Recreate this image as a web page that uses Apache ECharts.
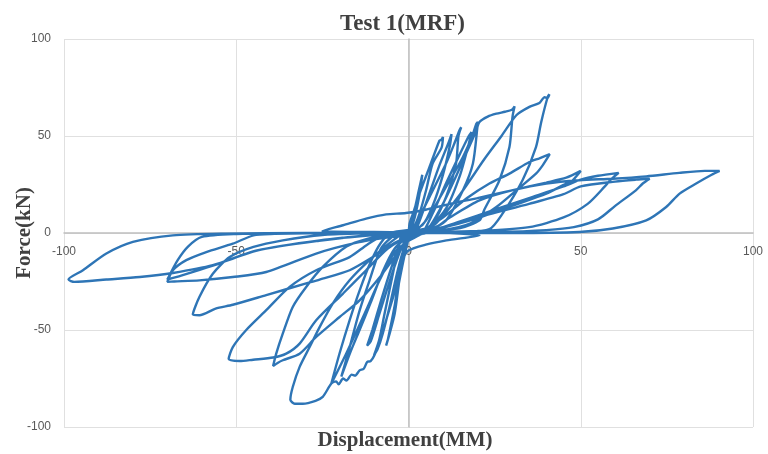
<!DOCTYPE html>
<html>
<head>
<meta charset="utf-8">
<script src="https://cdn.jsdelivr.net/npm/echarts@6/dist/echarts.min.js"></script>
<style>html,body{margin:0;padding:0;background:#fff;}#c{width:768px;height:454px;}</style>
</head>
<body>
<div id="c"></div>
<script>
// Tick values
const xTicks = [-100, -50, 0, 50, 100];
const yTicks = [-100, -50, 0, 50, 100];

// Hysteresis cycles: [displacement (mm), force (kN)]
const cycle0 = [[0,0],[1.5,10],[3,22],[4,30],[3.2,20],[1.8,8],[0.5,1],[-1,-3],[-2,-15],[-3.5,-32],[-4.5,-45],[-3.8,-35],[-2.5,-20],[-1,-5],[0,0]];
const cycle1 = [[0.3,4.8],[1.3,10],[3.2,20.3],[6.1,34],[9,47.7],[9.5,48],[10,49.5],[9.6,44],[7,35.8],[5.1,22],[3.2,10],[1.5,3],[-0.5,0.5],[-1.5,-8],[-2.5,-22],[-4,-41.5],[-5.5,-52],[-6.5,-58],[-6,-55],[-4.5,-42],[-2.8,-26],[-1.2,-12],[0,-3],[1,0.5]];
const cycle2 = [[1.5,2],[2.7,6.5],[6.1,18.6],[10.9,35.8],[13.5,47],[14.8,53],[15.3,54.5],[14.5,50],[13.8,35.8],[10.9,18.6],[7,4.8],[4,1.5],[0,1],[-2,-1],[-3,-8],[-5,-25],[-7,-42],[-8.5,-55],[-10,-63],[-9,-60],[-7.5,-52],[-5.5,-38],[-3.5,-22],[-1.7,-10],[0,-2],[2,1]];
const cycle2b = [[2,1],[5,15],[9,35],[11.5,46],[12.5,51],[12,45],[10,30],[7,14],[4,4],[0,1],[-2,-3],[-5,-18],[-8,-35],[-10.5,-50],[-12,-58],[-11,-56],[-8.5,-42],[-5.5,-25],[-3,-12],[-1,-4],[1,0]];
const cycle3 = [[2,1],[5.1,6.5],[10.9,23.7],[15.8,39.2],[18.5,50],[19.7,56.4],[20.1,57.2],[20,54.6],[18.7,35.8],[15.8,22],[10.9,6.5],[6,2],[0,1.5],[-5,0],[-8,-5],[-11,-15],[-14.2,-29.7],[-17.1,-45],[-20,-62],[-22.4,-77.6],[-18.1,-62.2],[-12.3,-39.8],[-8.4,-24.4],[-4,-10],[0,-4],[4,0]];
const cycle3b = [[4,0],[7,10],[11,26],[15,41],[17.5,50],[18.3,52],[17.5,46],[15,30],[11,13],[6,3],[0,1],[-4,-1],[-8,-8],[-11.3,-24.4],[-14.2,-40],[-16.5,-55],[-18.5,-68],[-19.5,-74],[-17,-62],[-14.2,-50],[-11,-36],[-7.5,-20],[-4,-8],[0,-2],[3,0]];
const cycle4 = [[3,0],[6,3],[10,15],[14,30],[17,42],[19.5,52],[20.6,57.2],[23,60],[25.5,61.5],[28,62.5],[30,63.5],[30.8,65.3],[30.2,60],[29.3,44.3],[26.4,27.2],[22,12],[20.6,6.5],[15,2.5],[8,1.5],[0,1],[-4.5,-3.8],[-11.3,-14],[-17.1,-24.4],[-22,-36.4],[-25.8,-48.5],[-28.7,-58.8],[-31.6,-69],[-33.6,-79.4],[-34.3,-86],[-33,-88],[-30.7,-88],[-27,-86.5],[-24.9,-84.5],[-22.4,-77.6],[-21,-76.5],[-20.3,-78],[-19,-75],[-18,-76],[-16.5,-73],[-15.5,-73.5],[-14.2,-70.8],[-13,-70],[-12,-66.5],[-11,-66],[-9.9,-63],[-8,-54],[-6.5,-45],[-3.6,-27.8],[-1.7,-14],[0,-9],[5,-6],[11,-3.8],[20.6,-1.2],[12,0],[4,0.5]];
const cycle5 = [[4,0.5],[8,5],[15,20],[22,38],[27,50],[31.3,60.7],[35.1,65],[38,67],[39.5,70],[40.3,69.5],[40.9,71.5],[40.4,70.1],[38.5,57],[37,44.3],[33.1,27.2],[27.3,10],[23.5,2],[15,0.5],[5,0],[-5,-1],[-12,-3],[-18,-7],[-24.9,-17.5],[-29.7,-27.8],[-33.6,-38.1],[-36.5,-51.9],[-38.4,-62.2],[-39.3,-68.6],[-38,-67],[-36.5,-65.6],[-31.6,-62.2],[-26.8,-53.6],[-20,-43.3],[-14.2,-34.7],[-8,-22],[-3,-10],[0,-4],[3,0]];
const cycle6 = [[3,0],[10,8],[17,18],[23.5,25.5],[29.3,30.6],[35.1,36.6],[38,38.5],[41,40.6],[39,35],[37,30.6],[31.3,22],[25.5,13.4],[18,5],[10,1.5],[0,0.5],[-8,-2],[-12,-6],[-17.1,-12.4],[-26.8,-19.2],[-34.5,-27.8],[-41.3,-39.8],[-47.1,-50],[-51,-58.8],[-52.2,-65],[-49,-66],[-45.1,-65.3],[-39.3,-64.2],[-35.5,-62.2],[-31.6,-57],[-26.8,-45],[-19,-31.2],[-12.3,-19.2],[-6,-8],[0,-2],[5,0]];
const cycle7 = [[5,0],[-10,0.5],[-25,1],[-19,4],[-12.3,7.4],[-6.5,9.6],[-0.7,10.3],[5,12],[12,15],[20,18],[30,22],[40,26],[45.8,28.5],[50,32],[47,26],[45.8,25.5],[40,20.3],[30,14],[20.6,8],[10,3],[0,1],[-10,0],[-25,-1],[-36.5,-3.8],[-45,-7.2],[-51.9,-12.4],[-56.8,-21],[-60.7,-33],[-62.6,-42],[-60.7,-42.4],[-56,-39],[-51,-37],[-41.3,-32],[-29.7,-26],[-25.8,-24],[-17.1,-19.2],[-10,-12],[-4,-5],[0,-2],[5,0]];
const cycle8 = [[5,0],[15,6],[25,12],[35,18],[45,24],[50,27.5],[55,29.5],[61,31],[59,28],[57,24],[52,15],[45,8],[35,3],[20,1],[5,0.5],[-20,0],[-40,-0.5],[-45,-1.2],[-51,-5.5],[-58.7,-9.8],[-64.5,-14],[-68.4,-19.2],[-70,-25.2],[-68,-25],[-60.7,-24.4],[-51,-22.7],[-41.3,-20.1],[-26.8,-10.6],[-15,-5],[-5,-2],[0,-1],[5,0]];
const cycle9 = [[5,0],[20,8],[35,15],[45,20],[50,24],[60,26.5],[66,27.5],[70,28],[68,25.5],[66,22],[60,14],[55,7],[48,3],[40,1.5],[25,0.5],[0,0],[-30,0],[-50,-0.5],[-60,-2],[-64,-7],[-67,-14],[-70,-24],[-66,-22],[-57,-17],[-44,-9],[-26,-4],[-10,-1],[5,0]];
const cycle10 = [[5,0],[12,8],[20.6,16.8],[30,22],[40,25.5],[49.6,27.2],[59.3,28],[69,29.2],[78.6,31],[86,32],[90.3,32],[88,30],[83.5,25.5],[78.7,20.3],[74.8,13.4],[69,6.5],[59.3,2.3],[49.6,0.5],[30,0],[0,0],[-30,0],[-53,-0.3],[-68.4,-1.2],[-80,-4.6],[-87.7,-10.6],[-94.5,-19.2],[-98.7,-24],[-97,-25.2],[-87.7,-24],[-78,-22.7],[-68.4,-20.6],[-56.8,-16.6],[-44,-9],[-25.8,-3.8],[-10,-1],[0,0]];

const cycles = [cycle0, cycle1, cycle2, cycle2b, cycle3, cycle3b, cycle4, cycle5, cycle6, cycle7, cycle8, cycle9, cycle10];
const points = [].concat(...cycles);

const chart = echarts.init(document.getElementById('c'), null, {renderer: 'canvas'});
const gridColor = '#e0e0e0';
const zeroColor = '#bfbfbf';
const labelStyle = {color: '#595959', fontSize: 12, fontFamily: 'Liberation Sans'};
const gridTop = 39, gridBottom = 27, chartH = 454;
const plotH = chartH - gridTop - gridBottom;

chart.setOption({
  animation: false,
  backgroundColor: '#ffffff',
  title: {
    text: 'Test 1(MRF)',
    left: 335, top: 8,
    textStyle: {fontFamily: 'Liberation Serif', fontWeight: 'bold', fontSize: 23, color: '#404040'}
  },
  grid: {left: 64, right: 15, top: gridTop, bottom: gridBottom, containLabel: false},
  xAxis: {
    type: 'value', min: xTicks[0], max: xTicks[xTicks.length - 1], interval: 50,
    position: 'bottom',
    offset: -plotH / 2,
    axisLine: {show: true, onZero: false, lineStyle: {color: zeroColor, width: 1.5}},
    axisTick: {show: false},
    axisLabel: Object.assign({margin: 13}, labelStyle),
    splitLine: {show: true, lineStyle: {color: gridColor, width: 1}}
  },
  yAxis: [{
    type: 'value', min: yTicks[0], max: yTicks[yTicks.length - 1], interval: 50,
    axisLine: {show: false, onZero: false},
    axisTick: {show: false},
    axisLabel: Object.assign({margin: 13}, labelStyle),
    splitLine: {show: true, lineStyle: {color: gridColor, width: 1}}
  }, {
    type: 'value', min: yTicks[0], max: yTicks[yTicks.length - 1], interval: 50,
    position: 'left',
    axisLine: {show: true, onZero: true, lineStyle: {color: zeroColor, width: 1.5}},
    axisTick: {show: false},
    axisLabel: {show: false},
    splitLine: {show: false}
  }],
  graphic: [{
    type: 'text', x: 25, y: 233, rotation: Math.PI / 2,
    style: {text: 'Force(kN)', font: 'bold 21px "Liberation Serif"', fill: '#404040', align: 'center', verticalAlign: 'middle'}
  }, {
    type: 'text', x: 405, y: 441,
    style: {text: 'Displacement(MM)', font: 'bold 21px "Liberation Serif"', fill: '#404040', align: 'center', verticalAlign: 'middle'}
  }],
  series: [{
    type: 'line',
    xAxisIndex: 0, yAxisIndex: 0,
    data: points,
    showSymbol: false, symbol: 'none',
    smooth: 0.25,
    lineStyle: {color: '#2E75B6', width: 2.4},
    z: 5
  }]
});
</script>
</body>
</html>
